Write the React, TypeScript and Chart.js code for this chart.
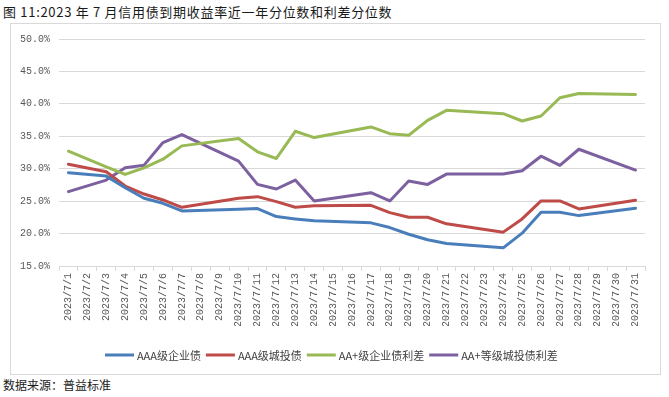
import React, { useEffect, useRef } from "react";
import { Chart, registerables } from "chart.js";

Chart.register(...registerables);

const titleText = "图 11:2023 年 7 月信用债到期收益率近一年分位数和利差分位数";
const sourceText = "数据来源：普益标准";

const categories = [
  "2023/7/1", "2023/7/2", "2023/7/3", "2023/7/4", "2023/7/5", "2023/7/6", "2023/7/7",
  "2023/7/8", "2023/7/9", "2023/7/10", "2023/7/11", "2023/7/12", "2023/7/13", "2023/7/14",
  "2023/7/15", "2023/7/16", "2023/7/17", "2023/7/18", "2023/7/19", "2023/7/20", "2023/7/21",
  "2023/7/22", "2023/7/23", "2023/7/24", "2023/7/25", "2023/7/26", "2023/7/27", "2023/7/28",
  "2023/7/29", "2023/7/30", "2023/7/31",
];

const seriesNames = ["AAA级企业债", "AAA级城投债", "AA+级企业债利差", "AA+等级城投债利差"];
const seriesColors = ["#4a7ebb", "#be4b48", "#98b954", "#7d60a0"];

const aaaCorp = [29.38, null, 28.86, 27.07, 25.44, 24.67, 23.49, null, null, 23.75, 23.85, 22.62, 22.26, 21.96, null, null, 21.65, 20.93, 19.9, 19.04, 18.47, null, null, 17.8, 20.06, 23.29, 23.29, 22.77, null, null, 23.9];
const aaaCity = [30.7, null, 29.53, 27.33, 26.1, 25.18, 24.05, null, null, 25.43, 25.69, 24.92, 24.05, 24.3, null, null, 24.36, 23.23, 22.52, 22.52, 21.5, null, null, 20.22, 22.26, 25.03, 25.03, 23.8, null, null, 25.13];
const aaPlusCorpSpread = [32.7, null, 30.3, 29.12, 30.14, 31.47, 33.52, null, null, 34.65, 32.6, 31.58, 35.77, 34.8, null, null, 36.44, 35.4, 35.16, 37.46, 39.0, null, null, 38.49, 37.36, 38.13, 40.94, 41.6, null, null, 41.45];
const aaPlusCitySpread = [26.46, null, 28.25, 30.14, 30.55, 34.03, 35.26, null, null, 31.17, 27.58, 26.87, 28.25, 25.03, null, null, 26.31, 25.03, 28.1, 27.58, 29.17, null, null, 29.17, 29.68, 31.93, 30.5, 33.0, null, null, 29.79];

const yMin = 15;
const yMax = 50;
const yStep = 5;

const CANVAS_W = 648;
const CANVAS_H = 349;

const legendPlugin = {
  id: "customLegend",
  afterDraw(chart: any) {
    const ctx = chart.ctx;
    ctx.save();
    ctx.font = '11px "Noto Sans CJK SC"';
    const lineW = 29;
    const gap = 3;
    const itemGap = 5;
    const items = chart.data.datasets.map((ds: any) => ({
      label: ds.label,
      color: ds.borderColor,
      w: ctx.measureText(ds.label).width,
    }));
    let x = 94;
    const y = 331;
    ctx.textBaseline = "middle";
    ctx.textAlign = "left";
    for (const it of items) {
      ctx.strokeStyle = it.color;
      ctx.lineWidth = 3;
      ctx.beginPath();
      ctx.moveTo(x, y);
      ctx.lineTo(x + lineW, y);
      ctx.stroke();
      ctx.fillStyle = "#404040";
      ctx.fillText(it.label, x + lineW + gap, y + 0.5);
      x += lineW + gap + it.w + itemGap;
    }
    ctx.restore();
  },
};

export default function App() {
  const canvasRef = useRef<HTMLCanvasElement | null>(null);

  useEffect(() => {
    if (!canvasRef.current) return;
    const series = [aaaCorp, aaaCity, aaPlusCorpSpread, aaPlusCitySpread];
    const chart = new Chart(canvasRef.current, {
      type: "line",
      data: {
        labels: categories,
        datasets: series.map((d, i) => ({
          label: seriesNames[i],
          data: d,
          borderColor: seriesColors[i],
          backgroundColor: seriesColors[i],
          borderWidth: 3,
          pointRadius: 0,
          tension: 0,
          spanGaps: true,
          borderCapStyle: "round",
          borderJoinStyle: "round",
        })),
      },
      options: {
        responsive: false,
        animation: false,
        devicePixelRatio: 1,
        layout: { padding: { top: 14, right: 14, bottom: 47, left: 0 } },
        plugins: {
          legend: { display: false },
          tooltip: { enabled: false },
          title: { display: false },
        },
        scales: {
          x: {
            type: "category",
            offset: true,
            grid: {
              display: true,
              offset: true,
              drawOnChartArea: false,
              drawTicks: true,
              tickLength: 5,
              color: "#d9d9d9",
            },
            border: { display: true, color: "#d9d9d9", width: 1 },
            ticks: {
              autoSkip: false,
              maxRotation: 90,
              minRotation: 90,
              padding: 2,
              color: "#595959",
              font: { family: '"Liberation Mono", monospace', size: 10 },
            },
            afterFit: (scale: any) => {
              scale.height = 60;
            },
          },
          y: {
            min: yMin,
            max: yMax,
            grid: { color: "#d9d9d9", drawTicks: false, lineWidth: 1 },
            border: { display: false },
            ticks: {
              stepSize: yStep,
              padding: 9,
              color: "#595959",
              font: { family: '"Liberation Mono", monospace', size: 10 },
              callback: (v: any) => Number(v).toFixed(1) + "%",
            },
            afterFit: (scale: any) => {
              scale.width = 48;
            },
          },
        },
      },
      plugins: [legendPlugin],
    });
    return () => chart.destroy();
  }, []);

  return (
    <div
      style={{
        position: "absolute",
        left: 0,
        top: 0,
        width: 669,
        height: 397,
        background: "#ffffff",
        overflow: "hidden",
      }}
    >
      <div
        style={{
          position: "absolute",
          left: 3,
          top: 3,
          fontFamily: '"Noto Sans CJK SC", sans-serif',
          fontSize: 13,
          lineHeight: "18px",
          letterSpacing: "0.7px",
          color: "#1a1a1a",
          whiteSpace: "nowrap",
        }}
      >
        {titleText}
      </div>
      <div
        style={{
          position: "absolute",
          left: 10,
          top: 23,
          width: 651,
          height: 352,
          boxSizing: "border-box",
          border: "1px solid #d9d9d9",
        }}
      />
      <canvas
        ref={canvasRef}
        width={CANVAS_W}
        height={CANVAS_H}
        style={{ position: "absolute", left: 11, top: 24, width: CANVAS_W, height: CANVAS_H }}
      />
      <div
        style={{
          position: "absolute",
          left: 3,
          top: 377,
          fontFamily: '"Noto Sans CJK SC", sans-serif',
          fontSize: 12,
          lineHeight: "16px",
          color: "#1a1a1a",
          whiteSpace: "nowrap",
        }}
      >
        {sourceText}
      </div>
    </div>
  );
}
